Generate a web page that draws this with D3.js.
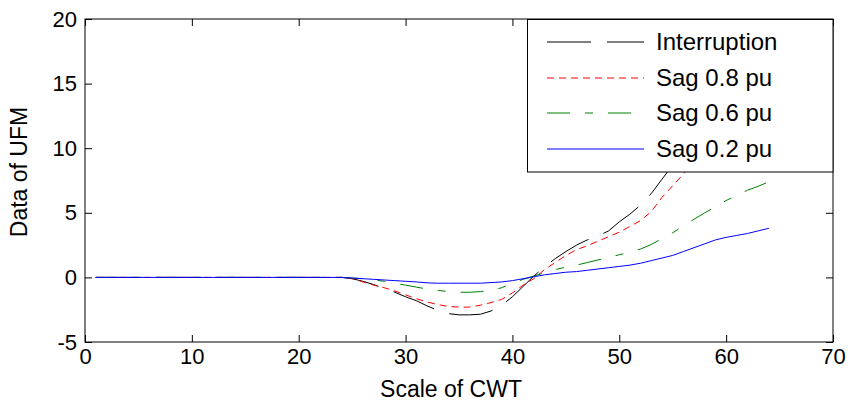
<!DOCTYPE html>
<html><head><meta charset="utf-8">
<script src="https://cdn.jsdelivr.net/npm/d3@7"></script>
<style>body{margin:0;background:#fff}svg{display:block}text{font-family:Arial,"Liberation Sans",sans-serif;fill:#000}</style>
</head><body><svg id="c" width="850" height="409"></svg>
<script>
const scaleX = [1,2,3,4,5,6,7,8,9,10,11,12,13,14,15,16,17,18,19,20,21,22,23,24,25,26,27,28,29,30,31,32,33,34,35,36,37,38,39,40,41,42,43,44,45,46,47,48,49,50,51,52,53,54,55,56,57,58,59,60,61,62,63,64];
const zeros24 = [0,0,0,0,0,0,0,0,0,0,0,0,0,0,0,0,0,0,0,0,0,0,0,0];
const interruption = zeros24.concat([-0.1,-0.3,-0.55,-0.85,-1.15,-1.5,-1.8,-2.2,-2.55,-2.8,-2.9,-2.9,-2.85,-2.6,-2.15,-1.5,-0.7,0.1,0.8,1.45,2.0,2.5,2.9,3.2,3.6,4.3,4.9,5.6,6.5,7.6,8.7,9.9,11.0,12.0,13.0,14.0,15.0,15.9,16.8,17.6]);
const sag08 = zeros24.concat([-0.1,-0.35,-0.6,-0.8,-1.05,-1.35,-1.65,-1.9,-2.1,-2.25,-2.3,-2.3,-2.15,-1.95,-1.7,-1.2,-0.6,-0.1,0.6,1.15,1.7,2.15,2.45,2.8,3.15,3.5,3.95,4.4,5.1,6.2,7.1,8.0,9.0,9.9,10.8,11.6,12.4,13.1,13.8,14.5]);
const sag06 = zeros24.concat([-0.05,-0.1,-0.2,-0.3,-0.45,-0.6,-0.75,-0.9,-1.0,-1.1,-1.15,-1.15,-1.1,-1.0,-0.8,-0.45,-0.15,0.1,0.35,0.6,0.8,0.95,1.15,1.35,1.55,1.75,1.95,2.2,2.55,3.0,3.45,4.0,4.5,5.0,5.45,5.95,6.35,6.75,7.05,7.4]);
const sag02 = zeros24.concat([-0.05,-0.1,-0.15,-0.2,-0.25,-0.3,-0.35,-0.42,-0.45,-0.45,-0.45,-0.45,-0.45,-0.4,-0.35,-0.25,-0.1,0.05,0.2,0.3,0.4,0.45,0.55,0.65,0.75,0.85,0.95,1.1,1.3,1.5,1.7,2.0,2.3,2.6,2.9,3.1,3.25,3.4,3.6,3.8]);
const seriesNames = ["Interruption","Sag 0.8 pu","Sag 0.6 pu","Sag 0.2 pu"];
const seriesValues = [interruption, sag08, sag06, sag02];
const seriesColors = ["#000000","#ff0000","#008000","#0000ff"];
const seriesDash = ["44,16","7,5","23,15,8,15",null];
const xTicks = [0,10,20,30,40,50,60,70];
const yTicks = [-5,0,5,10,15,20];
const xLabel = "Scale of CWT", yLabel = "Data of UFM";

const svg = d3.select("#c");
const L=85,R=833,T=19,B=342;
const x = d3.scaleLinear().domain([0,70]).range([L,R]);
const y = d3.scaleLinear().domain([-5,20]).range([B,T]);

svg.append("defs").append("clipPath").attr("id","clip").append("rect")
  .attr("x",L).attr("y",T).attr("width",R-L).attr("height",B-T);

const line = d3.line().x((d,i)=>x(scaleX[i])).y(d=>y(d));
const g = svg.append("g").attr("clip-path","url(#clip)");
seriesValues.forEach((vals,k)=>{
  g.append("path").datum(vals).attr("d",line).attr("fill","none")
   .attr("stroke",seriesColors[k]).attr("stroke-width",1)
   .attr("stroke-dasharray",seriesDash[k]);
});

const fs = 22;
const FF = "Arial,'Liberation Sans',sans-serif";
const fmt = d => String(d);
const ax = (gen, tr)=>{ const a=svg.append("g").attr("transform",tr).call(gen);
  a.select(".domain").remove(); a.selectAll("line").attr("stroke","#000"); return a; };
const bx = ax(d3.axisBottom(x).tickValues(xTicks).tickFormat(fmt).tickSizeInner(-7).tickSizeOuter(0).tickPadding(6), `translate(0,${B})`);
bx.selectAll("text").attr("font-size",fs).attr("font-family",FF);
ax(d3.axisTop(x).tickValues(xTicks).tickSizeInner(-7).tickSizeOuter(0).tickFormat(""), `translate(0,${T})`);
const ly = ax(d3.axisLeft(y).tickValues(yTicks).tickFormat(fmt).tickSizeInner(-7).tickSizeOuter(0).tickPadding(8), `translate(${L},0)`);
ly.selectAll("text").attr("font-size",fs).attr("font-family",FF);
ax(d3.axisRight(y).tickValues(yTicks).tickSizeInner(-7).tickSizeOuter(0).tickFormat(""), `translate(${R},0)`);
svg.append("rect").attr("x",L).attr("y",T).attr("width",R-L).attr("height",B-T)
  .attr("fill","none").attr("stroke","#000").attr("stroke-width",1);

svg.append("text").attr("x",451).attr("y",397).attr("text-anchor","middle").attr("font-size",23).text(xLabel);
svg.append("text").attr("transform",`translate(27,172) rotate(-90)`).attr("text-anchor","middle").attr("font-size",23).text(yLabel);

// legend
const lg = svg.append("g");
lg.append("rect").attr("x",527.5).attr("y",19.5).attr("width",R-527.5).attr("height",152.5)
  .attr("fill","#fff").attr("stroke","#000").attr("stroke-width",1);
const rowY = [42,78,113,149];
seriesNames.forEach((n,k)=>{
  lg.append("line").attr("x1",547).attr("x2",644).attr("y1",rowY[k]).attr("y2",rowY[k])
    .attr("stroke",seriesColors[k]).attr("stroke-width",1).attr("stroke-dasharray",seriesDash[k]);
  lg.append("text").attr("x",656).attr("y",rowY[k]+8).attr("font-size",24).text(n);
});
</script></body></html>
